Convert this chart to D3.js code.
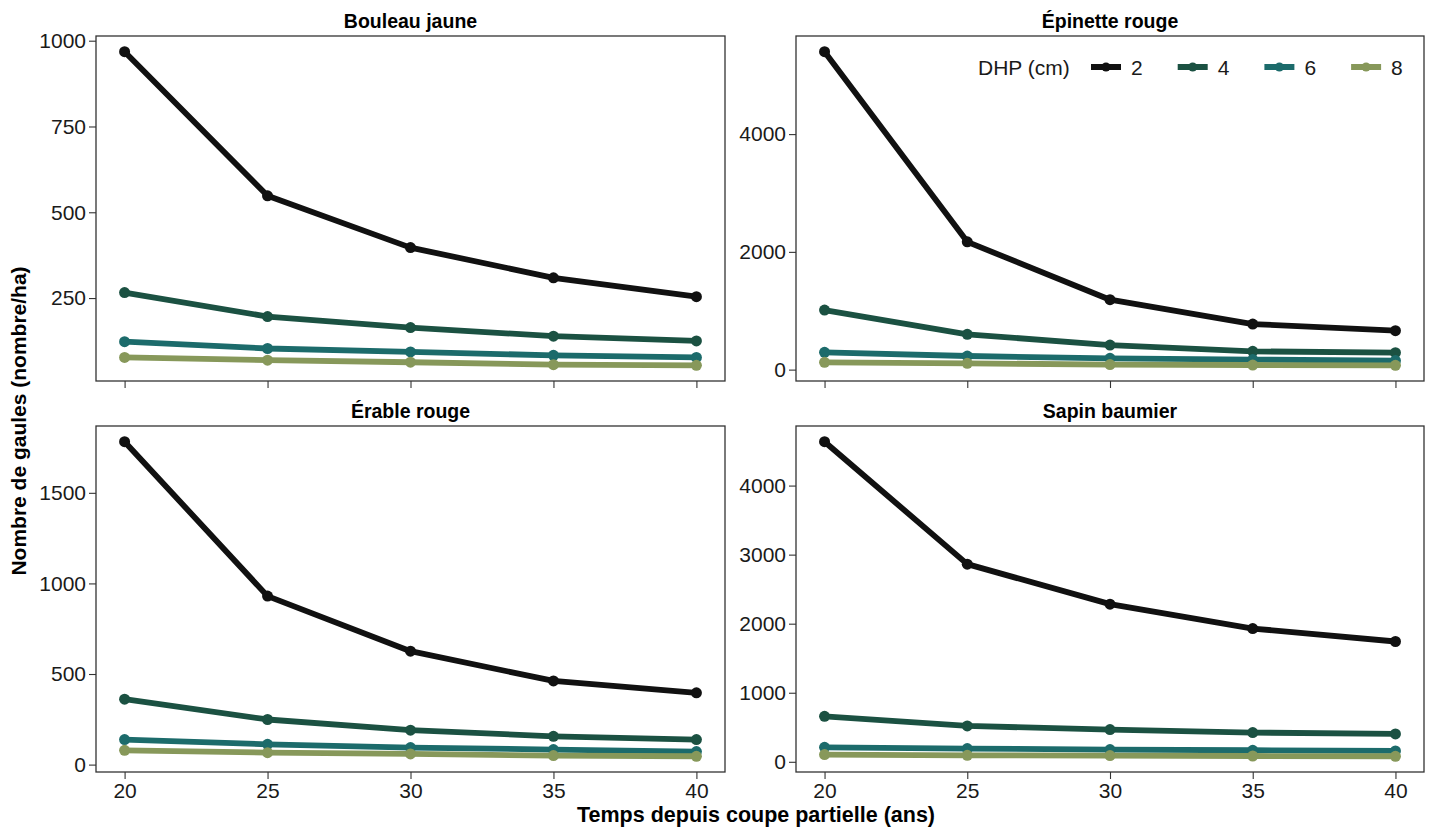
<!DOCTYPE html>
<html>
<head>
<meta charset="utf-8">
<script src="https://cdn.jsdelivr.net/npm/d3@7"></script>
<style>
  body { margin: 0; background: #fff; }
  text { font-family: "Liberation Sans", Arial, Helvetica, sans-serif; }
</style>
</head>
<body>
<svg id="chart"></svg>
<script>
// Données
const years = [20, 25, 30, 35, 40];
const dhpClasses = ["2", "4", "6", "8"];
const dhpColors = ["#111111", "#1b5142", "#1c6b6b", "#87985a"];
const speciesNames = ["Bouleau jaune", "Épinette rouge", "Érable rouge", "Sapin baumier"];

// une ligne par classe de DHP (2, 4, 6, 8 cm)
const bouleauJaune = [
    [968, 548, 397, 309, 254],
    [266, 196, 164, 139, 125],
    [123, 103, 93, 83, 77],
    [77, 69, 63, 56, 54]
];
const epinetteRouge = [
    [5400, 2170, 1187, 774, 662],
    [1011, 599, 417, 310, 288],
    [293, 231, 192, 170, 153],
    [124, 107, 85, 78, 73]
];
const erableRouge = [
    [1782, 930, 626, 462, 396],
    [361, 249, 190, 156, 138],
    [138, 112, 94, 83, 72],
    [79, 66, 59, 50, 46]
];
const sapinBaumier = [
    [4635, 2862, 2283, 1930, 1742],
    [659, 519, 467, 423, 403],
    [210, 191, 177, 167, 157],
    [104, 94, 90, 84, 80]
];
const speciesData = [bouleauJaune, epinetteRouge, erableRouge, sapinBaumier];

const xTicks = [20, 25, 30, 35, 40];
const yTicksList = [
    [250, 500, 750, 1000],
    [0, 2000, 4000],
    [0, 500, 1000, 1500],
    [0, 1000, 2000, 3000, 4000]
];

const width = 1430;
const height = 830;

const svg = d3.select("#chart")
    .attr("width", width)
    .attr("height", height);

// cadres des panneaux (2 x 2)
const cols = [[96, 725], [796, 1424]];
const rows = [[36, 381], [426, 772]];

speciesData.forEach((series, i) => {
    const col = i % 2, row = Math.floor(i / 2);
    const [x0, x1] = cols[col];
    const [y0, y1] = rows[row];

    const x = d3.scaleLinear().domain([19, 41]).range([x0, x1]);

    // expansion de 5 % comme ggplot
    const all = series.flat();
    const lo = d3.min(all), hi = d3.max(all);
    const pad = (hi - lo) * 0.05;
    const y = d3.scaleLinear().domain([lo - pad, hi + pad]).range([y1, y0]);

    const g = svg.append("g");

    // axe y
    const yAxis = g.append("g")
        .attr("transform", `translate(${x0},0)`)
        .call(d3.axisLeft(y).tickValues(yTicksList[i]).tickFormat(d3.format("d"))
            .tickSize(7).tickPadding(3));
    yAxis.select(".domain").remove();
    yAxis.selectAll("line").attr("stroke", "#333").attr("stroke-width", 1.1);
    yAxis.selectAll("text").attr("font-size", 21).attr("fill", "#1a1a1a")
        .style("font-family", "'Liberation Sans', Arial, sans-serif");

    // axe x
    const xAxis = g.append("g")
        .attr("transform", `translate(0,${y1})`)
        .call(d3.axisBottom(x).tickValues(xTicks).tickFormat(d3.format("d"))
            .tickSize(7).tickPadding(4));
    xAxis.select(".domain").remove();
    xAxis.selectAll("line").attr("stroke", "#333").attr("stroke-width", 1.1);
    xAxis.selectAll("text").attr("font-size", 21).attr("fill", "#1a1a1a")
        .style("font-family", "'Liberation Sans', Arial, sans-serif")
        .style("display", row === 0 ? "none" : null);

    // titre du panneau
    g.append("text")
        .attr("x", (x0 + x1) / 2)
        .attr("y", y0 - 8)
        .attr("text-anchor", "middle")
        .attr("font-size", 19.5)
        .attr("font-weight", "bold")
        .text(speciesNames[i]);

    const line = d3.line()
        .x((d, j) => x(years[j]))
        .y(d => y(d));

    series.forEach((vals, k) => {
        g.append("path")
            .datum(vals)
            .attr("d", line)
            .attr("fill", "none")
            .attr("stroke", dhpColors[k])
            .attr("stroke-width", 5.8)
            .attr("stroke-linejoin", "round");
        g.selectAll(null)
            .data(vals)
            .enter().append("circle")
            .attr("cx", (d, j) => x(years[j]))
            .attr("cy", d => y(d))
            .attr("r", 5.5)
            .attr("fill", dhpColors[k]);
    });

    // bordure
    g.append("rect")
        .attr("x", x0).attr("y", y0)
        .attr("width", x1 - x0).attr("height", y1 - y0)
        .attr("fill", "none")
        .attr("stroke", "#333")
        .attr("stroke-width", 1.3);
});

// légende dans le panneau en haut à droite
const legend = svg.append("g").attr("transform", "translate(978,67)");
legend.append("text")
    .attr("x", 0).attr("y", 7.5)
    .attr("font-size", 21)
    .attr("fill", "#1a1a1a")
    .text("DHP (cm)");
dhpClasses.forEach((c, k) => {
    const lx = 113 + k * 86.7;
    legend.append("line")
        .attr("x1", lx).attr("x2", lx + 30)
        .attr("y1", 0).attr("y2", 0)
        .attr("stroke", dhpColors[k])
        .attr("stroke-width", 6);
    legend.append("circle")
        .attr("cx", lx + 15).attr("cy", 0)
        .attr("r", 4.5)
        .attr("fill", dhpColors[k]);
    legend.append("text")
        .attr("x", lx + 40).attr("y", 7.5)
        .attr("font-size", 21)
        .attr("fill", "#1a1a1a")
        .text(c);
});

// titres des axes
svg.append("text")
    .attr("x", 756)
    .attr("y", 822)
    .attr("text-anchor", "middle")
    .attr("font-size", 21.5)
    .attr("font-weight", "bold")
    .text("Temps depuis coupe partielle (ans)");

svg.append("text")
    .attr("transform", "translate(26,421) rotate(-90)")
    .attr("text-anchor", "middle")
    .attr("font-size", 21)
    .attr("font-weight", "bold")
    .text("Nombre de gaules (nombre/ha)");
</script>
</body>
</html>
